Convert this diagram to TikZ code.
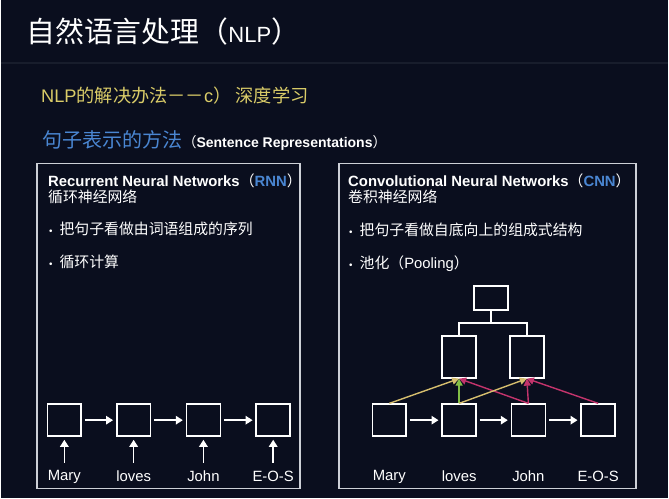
\documentclass[tikz,border=0pt]{standalone}
\usepackage{fontspec}
\setmainfont{Liberation Sans}
\newfontfamily\cjk{Noto Sans CJK SC}
\usetikzlibrary{
    arrows.meta
}
\definecolor{bg}{RGB}{10, 14, 30}
\definecolor{rulegrey}{RGB}{24, 29, 44}
\definecolor{framegrey}{RGB}{205, 208, 215}
\definecolor{gold}{RGB}{218, 204, 104}
\definecolor{sky}{RGB}{74, 134, 210}
\definecolor{rose}{RGB}{196, 52, 108}
\definecolor{sand}{RGB}{214, 190, 110}
\definecolor{leaf}{RGB}{130, 190, 70}
\newcommand{\zhtext}[1]{{\cjk #1}}
\newcommand{\dotmark}{{\fontsize{7}{8}\selectfont\textbullet}\hspace{5pt}}
\tikzset {
    caption/.style = {anchor = west, text = white, inner sep = 0pt},
    body/.style = {caption, font = \fontsize{10.6}{13}\selectfont},
    word/.style = {text = white, inner sep = 0pt, font = \fontsize{10.6}{13}\selectfont},
    panel/.style = {draw = framegrey, line width = 1pt},
    rulebar/.style = {draw = rulegrey, line width = 1.5pt},
    cell/.style = {
        draw = white, line width = 1.2pt, inner sep = 0pt,
        minimum width = 0.85cm, minimum height = 0.8cm
    },
    tall cell/.style = {cell, minimum height = 1.05cm},
    flat cell/.style = {cell, minimum height = 0.6cm},
    flow/.style = {
        draw = white, line width = 1.2pt,
        -{Triangle[length = 5pt, width = 6pt]},
        shorten >= 2pt, shorten <= 2pt
    },
    feed/.style = {
        draw = white, line width = 1.2pt,
        -{Triangle[length = 5pt, width = 6pt]},
        shorten >= 2pt
    },
    tree/.style = {draw = white, line width = 1.2pt},
    pool/.style = {line width = 1pt, -{Triangle[length = 5pt, width = 5pt]}}
}

\begin{document}
\begin{tikzpicture}[x = 0.025cm, y = -0.025cm]
    % background, rule and the two panels
    \fill [bg] (0, 0) rectangle (669, 500);
    \draw [rulebar] (0, 63) -- (669, 63);
    \draw [panel] (36, 164) rectangle (300, 490);
    \draw [panel] (339, 164) rectangle (637, 490);
    % headings
    \node (title) [caption, font = \fontsize{20.6}{24}\selectfont] at (25, 32)
        {\zhtext{自然语言处理（}{\fontsize{15.7}{18}\selectfont NLP}\zhtext{）}};
    \node (way) [caption, text = gold, font = \fontsize{13}{15}\selectfont] at (40, 96)
        {NLP\zhtext{的解决办法－－}c\zhtext{）}\hspace{3pt}\zhtext{深度学习}};
    \node (repr) [caption, font = \fontsize{10}{12}\selectfont] at (41, 141)
        {{\fontsize{14.3}{16}\selectfont\zhtext{\textcolor{sky}{句子表示的方法}}}\zhtext{（}\textbf{Sentence Representations}\zhtext{）}};
    % RNN panel
    \node (rnnhead) [body] at (47, 181)
        {\textbf{Recurrent Neural Networks}\zhtext{（}\textcolor{sky}{\textbf{RNN}}\zhtext{）}};
    \node (rnnsub) [body] at (47, 197) {\zhtext{循环神经网络}};
    \node (rnnpt1) [body] at (48, 230) {\dotmark\zhtext{把句子看做由词语组成的序列}};
    \node (rnnpt2) [body] at (48, 263) {\dotmark\zhtext{循环计算}};
    \node (r1) [cell] at (63.5, 421.5) {};
    \node (r2) [cell] at (133, 421.5) {};
    \node (r3) [cell] at (203, 421.5) {};
    \node (r4) [cell] at (273, 421.5) {};
    \draw [flow] (r1) -- (r2);
    \draw [flow] (r2) -- (r3);
    \draw [flow] (r3) -- (r4);
    \coordinate (in1) at (63.5, 464);
    \coordinate (in2) at (133, 464);
    \coordinate (in3) at (203, 464);
    \coordinate (in4) at (273, 464);
    \draw [feed] (in1) -- (r1);
    \draw [feed] (in2) -- (r2);
    \draw [feed] (in3) -- (r3);
    \draw [feed] (in4) -- (r4);
    \node (rw1) [word] at (63.5, 478) {Mary};
    \node (rw2) [word] at (133, 478) {loves};
    \node (rw3) [word] at (203, 478) {John};
    \node (rw4) [word] at (273, 478) {E-O-S};
    % CNN panel
    \node (cnnhead) [body] at (348, 181)
        {\textbf{Convolutional Neural Networks}\zhtext{（}\textcolor{sky}{\textbf{CNN}}\zhtext{）}};
    \node (cnnsub) [body] at (348, 197) {\zhtext{卷积神经网络}};
    \node (cnnpt1) [body] at (349, 231) {\dotmark\zhtext{把句子看做自底向上的组成式结构}};
    \node (cnnpt2) [body] at (349, 265) {\dotmark\zhtext{池化（}Pooling\zhtext{）}};
    \node (top) [flat cell] at (491.5, 299) {};
    \node (m1) [tall cell] at (459.5, 358) {};
    \node (m2) [tall cell] at (527.5, 358) {};
    \node (c1) [cell] at (389.5, 421.5) {};
    \node (c2) [cell] at (459.5, 421.5) {};
    \node (c3) [cell] at (529, 421.5) {};
    \node (c4) [cell] at (599, 421.5) {};
    \draw [tree] (top.south) -- ++(0, 12) coordinate (fork);
    \draw [tree] (fork) -| (m1.north);
    \draw [tree] (fork) -| (m2.north);
    \draw [flow] (c1) -- (c2);
    \draw [flow] (c2) -- (c3);
    \draw [flow] (c3) -- (c4);
    % pooling windows
    \draw [pool, sand] (c1.north) -- (m1.south);
    \draw [pool, leaf] (c2.north) -- (m1.south);
    \draw [pool, rose] (c3.north) -- (m1.south);
    \draw [pool, sand] (c2.north) -- (m2.south);
    \draw [pool, rose] (c3.north) -- (m2.south);
    \draw [pool, rose] (c4.north) -- (m2.south);
    \node (cw1) [word] at (389.5, 478) {Mary};
    \node (cw2) [word] at (459.5, 478) {loves};
    \node (cw3) [word] at (529, 478) {John};
    \node (cw4) [word] at (599, 478) {E-O-S};
\end{tikzpicture}
\end{document}
